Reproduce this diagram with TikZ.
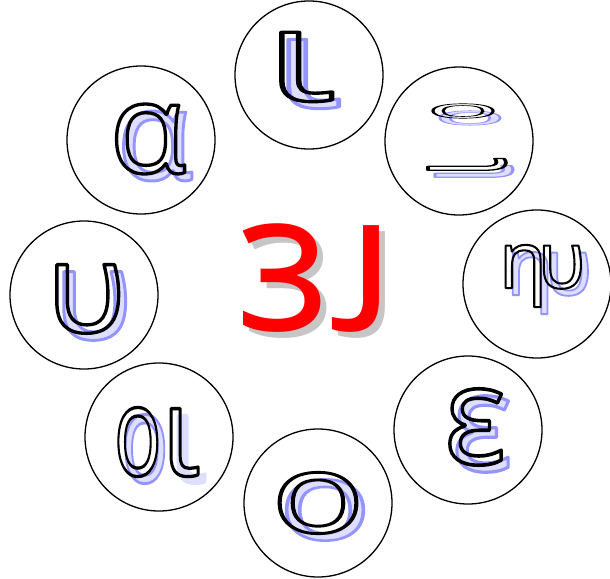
\documentclass[tikz,border=0pt]{standalone}
\usepackage{fontspec}
\newfontfamily\vfont{Open Sans}

% outlined letter and its soft blue shadow (text render modes)
\newcommand\outl[1]{{\color{black}\special{pdf:literal direct 1 Tr 3.4 w 1 j}#1\special{pdf:literal direct 0 Tr}}}
\newcommand\shad[1]{{\color{blue!13}\special{pdf:literal direct 0.58 0.58 1 RG 2 Tr 3 w 1 j}#1\special{pdf:literal direct 0 Tr}}}
\newcommand\vowel[4]{%
  \node[glyph,#3] at ([shift={(7,7)}]#2) {\shad{#4}};
  \node[glyph,#3] (#1) at (#2) {\outl{#4}};%
}

\begin{document}
\begin{tikzpicture}[
    x=1pt, y=-1pt,
    ring/.style={
        circle,
        draw,
        line width=1.3pt,
        minimum size=148pt
      },
    glyph/.style={
        inner sep=0pt,
        font=\vfont\fontsize{130}{130}\selectfont
      },
    title/.style={
        inner sep=0pt,
        font=\vfont\fontsize{196}{196}\selectfont
      }
  ]
  \useasboundingbox (0,0) rectangle (610,578);

  \node[ring] (c-iota) at (309,75) {};
  \node[ring] (c-turn) at (459,141) {};
  \node[ring] (c-etau) at (537,284) {};
  \node[ring] (c-eps) at (468,430) {};
  \node[ring] (c-omi) at (318,503) {};
  \node[ring] (c-oi) at (159,437) {};
  \node[ring] (c-ups) at (84,295) {};
  \node[ring] (c-alpha) at (141,140) {};

  \vowel{iota}{300,67}{xscale=1.6, yscale=0.98}{ι}
  \vowel{turn-o}{463,111}{xscale=0.94, yscale=0.2}{ο}
  \vowel{turn-i}{467,166}{rotate=90, xscale=0.38, yscale=1.1}{ι}
  \vowel{etau}{542,276}{xscale=0.6, yscale=0.61}{η\kern-0.12em υ}
  \vowel{eps}{475,427}{xscale=1.0, yscale=1.06}{ε}
  \vowel{omi}{318,503}{xscale=1.2, yscale=0.85}{ο}
  \vowel{oi}{157,442}{xscale=0.87, yscale=0.96}{\scalebox{0.7}[1]{ο}ι}
  \vowel{ups}{86,299}{xscale=1.0, yscale=0.97}{υ}
  \vowel{alpha}{148,139}{xscale=0.97, yscale=0.97}{α}

  % the mirrored diphthong in the middle
  \node[title, text=gray!45, xscale=-1] at (322,284) {ιε};
  \node[title, text=red, xscale=-1] (diph) at (316,278) {ιε};

\end{tikzpicture}
\end{document}
